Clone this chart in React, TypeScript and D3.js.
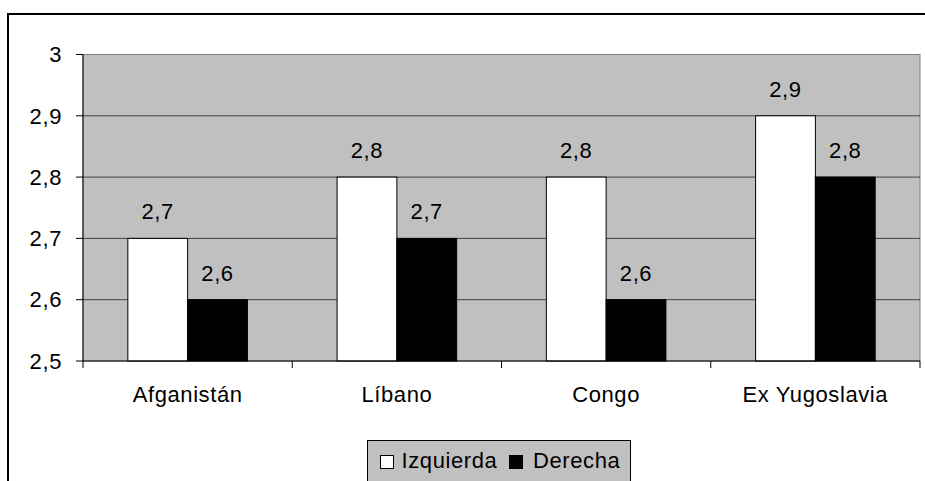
import React from "react";
import * as d3 from "d3";

const categories = ["Afganistán", "Líbano", "Congo", "Ex Yugoslavia"];
const seriesNames = ["Izquierda", "Derecha"];
const izquierda = [2.7, 2.8, 2.8, 2.9];
const derecha = [2.6, 2.7, 2.6, 2.8];
const yTicks = [2.5, 2.6, 2.7, 2.8, 2.9, 3];
const colors = ["#ffffff", "#000000"];

const W = 925;
const H = 481;
const plot = { left: 83, right: 920, top: 54.5, bottom: 361 };
const font = "'Liberation Sans', Arial, sans-serif";
const FS = 22;
const LS = 0.6;
const fmt = (v: number) => String(v).replace(".", ",");

export default function App() {
  const x = d3
    .scaleBand<string>()
    .domain(categories)
    .range([plot.left, plot.right])
    .paddingInner(0)
    .paddingOuter(0);
  const x1 = d3
    .scaleBand<string>()
    .domain(seriesNames)
    .range([0, x.bandwidth()])
    .paddingOuter(0.75)
    .paddingInner(0);
  const y = d3.scaleLinear().domain([2.5, 3]).range([plot.bottom, plot.top]);
  const series = [izquierda, derecha];

  return (
    <svg
      width={W}
      height={H}
      style={{ position: "absolute", left: 0, top: 0, background: "#fff" }}
      fontFamily={font}
      letterSpacing={LS}
    >
      {/* outer frame */}
      <rect x={8} y={14} width={W + 10} height={H + 10} fill="#fff" stroke="#000" strokeWidth={2} />
      {/* plot area */}
      <rect
        x={plot.left}
        y={plot.top}
        width={plot.right - plot.left}
        height={plot.bottom - plot.top}
        fill="#c0c0c0"
        stroke="#808080"
        strokeWidth={1}
      />
      {/* gridlines */}
      {yTicks.slice(1, -1).map((t) => (
        <line key={t} x1={plot.left} x2={plot.right} y1={y(t)} y2={y(t)} stroke="#404040" strokeWidth={1} />
      ))}
      {/* bars */}
      {categories.map((c, i) => (
        <g key={c} transform={`translate(${x(c)},0)`}>
          {series.map((s, j) => (
            <rect
              key={j}
              x={x1(seriesNames[j])}
              y={y(s[i])}
              width={x1.bandwidth()}
              height={y(2.5) - y(s[i])}
              fill={colors[j]}
              stroke="#000"
              strokeWidth={1}
            />
          ))}
          {series.map((s, j) => (
            <text
              key={"l" + j}
              x={(x1(seriesNames[j]) as number) + x1.bandwidth() / 2}
              y={y(s[i]) - 19}
              textAnchor="middle"
              fontSize={FS}
              fill="#000"
            >
              {fmt(s[i])}
            </text>
          ))}
        </g>
      ))}
      {/* axes */}
      <line x1={plot.left} x2={plot.left} y1={plot.top} y2={plot.bottom} stroke="#000" strokeWidth={1} />
      <line x1={plot.left} x2={plot.right} y1={plot.bottom} y2={plot.bottom} stroke="#000" strokeWidth={1} />
      {yTicks.map((t) => (
        <g key={t}>
          <line x1={plot.left - 7} x2={plot.left} y1={y(t)} y2={y(t)} stroke="#000" />
          <text x={62} y={y(t)} dy="0.35em" textAnchor="end" fontSize={FS} fill="#000">
            {fmt(t)}
          </text>
        </g>
      ))}
      {[...categories.map((c) => x(c) as number), plot.right].map((v, i) => (
        <line key={i} x1={v} x2={v} y1={plot.bottom} y2={plot.bottom + 7} stroke="#000" />
      ))}
      {categories.map((c) => (
        <text
          key={c}
          x={(x(c) as number) + x.bandwidth() / 2}
          y={402}
          textAnchor="middle"
          fontSize={FS}
          fill="#000"
        >
          {c}
        </text>
      ))}
      {/* legend */}
      <rect x={367.5} y={440.5} width={263} height={60} fill="#c0c0c0" stroke="#000" strokeWidth={1} />
      <rect x={380.5} y={455.5} width={13} height={13} fill={colors[0]} stroke="#000" />
      <text x={401.5} y={468} fontSize={FS} fill="#000">
        {seriesNames[0]}
      </text>
      <rect x={509.5} y={455.5} width={13} height={13} fill={colors[1]} stroke="#000" />
      <text x={533} y={468} fontSize={FS} fill="#000">
        {seriesNames[1]}
      </text>
    </svg>
  );
}
